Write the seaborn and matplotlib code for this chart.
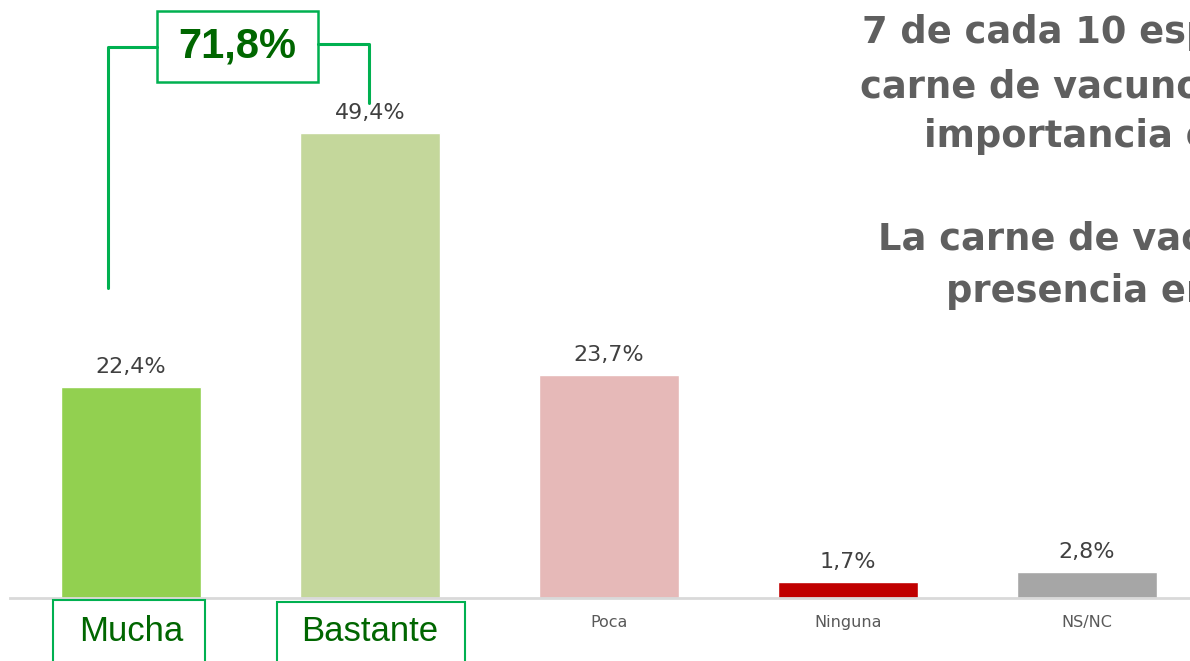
import matplotlib
matplotlib.use("Agg")
import matplotlib.pyplot as plt
import seaborn as sns
from matplotlib.patches import Rectangle
from matplotlib.lines import Line2D

categories = ["Mucha", "Bastante", "Poca", "Ninguna", "NS/NC"]
values = [22.4, 49.4, 23.7, 1.7, 2.8]
colors = ["#92D050", "#C4D79B", "#E6B9B8", "#C00000", "#A6A6A6"]
value_labels = [f"{v:.1f}%".replace(".", ",") for v in values]
total_label = "71,8%"
title_lines = [
    "7 de cada 10 españoles dan a la",
    "carne de vacuno mucha o bastante",
    "importancia en su alimentación",
    "",
    "La carne de vacuno tiene",
    "presencia en su dieta",
]

W, H = 1190, 661
sns.set_style("white")
fig = plt.figure(figsize=(W / 100, H / 100), dpi=100)
fig.patch.set_facecolor("white")


def px(x, y):
    return x / W, 1 - y / H


ax = fig.add_axes([10 / W, 63 / H, 1 - 10 / W, 565 / H])
sns.barplot(x=categories, y=values, hue=categories, palette=colors,
            width=0.585, legend=False, ax=ax, saturation=1)
ax.set_xlim(-0.506, 4.431)
ax.set_ylim(0, 60)
ax.set_xlabel("")
ax.set_ylabel("")
ax.set_yticks([])
for s in ["top", "right", "left"]:
    ax.spines[s].set_visible(False)
ax.spines["bottom"].set_color("#D9D9D9")
ax.spines["bottom"].set_linewidth(2)
ax.tick_params(axis="x", length=0, pad=12)

for i, cont in enumerate(ax.containers):
    ax.bar_label(cont, labels=[value_labels[i]], padding=7,
                 fontsize=16, color="#404040")

ticklabels = ax.get_xticklabels()
for t in ticklabels:
    txt = t.get_text()
    if txt in ("Mucha", "Bastante"):
        t.set_fontsize(25)
        t.set_color("#006600")
        t.set_family("Liberation Sans")
    else:
        t.set_fontsize(11.5)
        t.set_color("#595959")

# Boxes around Mucha / Bastante
fc = "#00B050"
for (x0, y0, x1) in [(53, 600, 205), (277, 602, 465)]:
    fx0, fy1 = px(x0, y0)
    fx1, fy0 = px(x1, 720)
    fig.add_artist(Rectangle((fx0, fy0), fx1 - fx0, fy1 - fy0,
                             transform=fig.transFigure, fill=False,
                             edgecolor=fc, linewidth=1.5, clip_on=False))

# 71,8% box and connectors
bx0, by0 = px(157, 82)
bx1, by1 = px(318, 11)
fig.add_artist(Rectangle((bx0, by0), bx1 - bx0, by1 - by0,
                         transform=fig.transFigure, facecolor="white",
                         edgecolor=fc, linewidth=1.8))
cx, cy = px(237, 47)
fig.text(cx, cy, total_label, ha="center", va="center", fontsize=30,
         fontweight="bold", color="#006600", family="Liberation Sans")

for pts in [[(108, 288), (108, 47), (157, 47)],
            [(318, 44), (369, 44), (369, 103)]]:
    xs = [px(*p)[0] for p in pts]
    ys = [px(*p)[1] for p in pts]
    fig.add_artist(Line2D(xs, ys, transform=fig.transFigure,
                          color=fc, linewidth=2.2))

# Title text on the right (clipped by figure edge)
title_pos = [(862, 43), (860, 97), (924, 147), None, (878, 250), (946, 302)]
for line, pos in zip(title_lines, title_pos):
    if pos is None:
        continue
    tx, ty = px(*pos)
    fig.text(tx, ty, line, ha="left", va="baseline", fontsize=26.5,
             fontweight="bold", color="#5F5F5F", family="DejaVu Sans")

fig.savefig("out.png", dpi=100, facecolor="white")
